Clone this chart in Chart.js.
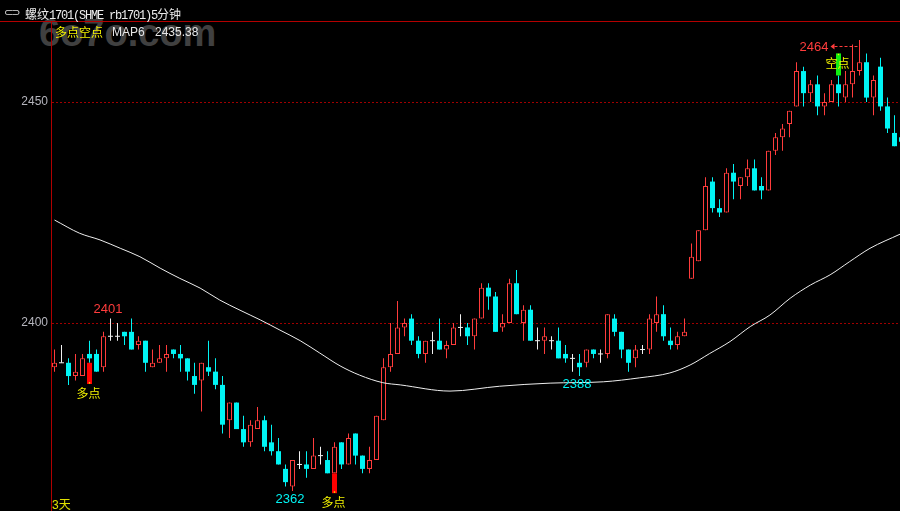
<!DOCTYPE html>
<html><head><meta charset="utf-8">
<script src="https://cdn.jsdelivr.net/npm/chart.js@4/dist/chart.umd.min.js"></script>
<style>
html,body{margin:0;padding:0;background:#000;width:900px;height:511px;overflow:hidden;}
#wrap{position:relative;width:900px;height:511px;background:#000;}
#wm{position:absolute;left:39px;top:14px;font:bold 38px "Liberation Sans",Arial,sans-serif;color:#404040;z-index:0;white-space:nowrap;line-height:1;}
canvas{position:absolute;left:0;top:0;z-index:1;}
.t{position:absolute;z-index:2;white-space:nowrap;line-height:12px;}
#icon{left:4px;top:6px;font:11px "DejaVu Sans",sans-serif;color:#e0e0e0;letter-spacing:-2px;}
#title{left:25px;top:5px;color:#ececec;font-size:12px;}
#title .as{font:12px "Liberation Mono",monospace;letter-spacing:-1.2px;}
#title .cj{font:12px "Noto Sans CJK SC",sans-serif;}
#sig{left:55px;top:23px;font:12px "Noto Sans CJK SC",sans-serif;color:#f2f200;}
#ma{left:112px;top:25px;font:12px "Liberation Sans",Arial,sans-serif;color:#e6e6e6;}
#maval{left:155px;top:25px;font:12px "Liberation Sans",Arial,sans-serif;color:#e6e6e6;}
#days{left:52px;top:495px;font:12px "Liberation Sans","Noto Sans CJK SC",sans-serif;color:#e0e000;}
</style></head><body>
<div id="wrap">
<div id="wm">6o7o.com</div>
<canvas id="c" width="900" height="511"></canvas>
<div class="t" id="icon">⊂⊃</div>
<div class="t" id="title"><span class="cj">螺纹</span><span class="as">1701(SHME rb1701)5</span><span class="cj">分钟</span></div>
<div class="t" id="sig">多点空点</div>
<div class="t" id="ma">MAP6</div>
<div class="t" id="maval">2435.38</div>
<div class="t" id="days">3天</div>
</div>
<script>
// ---- data (5-minute bars, index 0..121) ----
const openP  = [2390,2391,2391,2388,2388,2393,2393,2390,2397,2397,2398,2398,2395,2396,2390,2391,2392,2394,2393,2392,
  2388,2387,2390,2389,2386,2378,2382,2376,2373,2376,2378,2373,2371,2367,2363,2368,2368,2367,2370,2369,
  2366,2373,2368,2375,2370,2367,2369,2378,2390,2393,2399,2401,2396,2393,2396,2396,2394,2395,2399,2399,
  2397,2401,2408,2406,2399,2400,2409,2400,2403,2396,2396,2396,2396,2393,2392,2391,2391,2394,2393,2393,
  2401,2398,2394,2392,2394,2394,2400,2402,2396,2395,2397,2410,2414,2421,2432,2426,2425,2434,2431,2433,
  2435,2431,2430,2439,2442,2445,2449,2457,2452,2454,2449,2450,2454,2451,2454,2457,2459,2451,2458,2449,
  2443,2442];
const highP  = [2394,2395,2392,2393,2393,2396,2394,2398,2401,2400,2398,2401,2397,2396,2394,2395,2395,2394,2395,2392,
  2391,2391,2396,2392,2388,2382,2382,2379,2378,2381,2379,2377,2374,2368,2369,2371,2371,2374,2372,2371,
  2373,2373,2375,2375,2370,2372,2379,2392,2400,2405,2401,2402,2397,2396,2398,2401,2396,2400,2402,2400,
  2401,2409,2409,2407,2402,2410,2412,2404,2404,2399,2399,2397,2399,2395,2393,2393,2394,2394,2394,2402,
  2402,2398,2394,2395,2395,2402,2406,2404,2399,2398,2401,2418,2421,2433,2433,2428,2435,2436,2433,2437,
  2437,2433,2439,2443,2445,2448,2459,2458,2455,2456,2452,2455,2456,2457,2463,2464,2461,2456,2460,2451,
  2447,2444];
const lowP   = [2389,2391,2386,2387,2388,2391,2389,2389,2396,2396,2395,2394,2394,2389,2390,2391,2389,2392,2389,2387,
  2384,2380,2388,2385,2375,2374,2376,2372,2372,2376,2371,2370,2368,2363,2362,2367,2365,2367,2368,2366,
  2366,2367,2368,2368,2366,2366,2369,2378,2389,2393,2397,2395,2392,2391,2393,2394,2392,2395,2397,2395,
  2394,2401,2403,2398,2398,2400,2402,2396,2396,2394,2393,2394,2392,2391,2389,2388,2390,2392,2391,2392,
  2397,2392,2389,2390,2393,2393,2398,2396,2394,2394,2397,2410,2414,2421,2425,2424,2425,2428,2428,2431,
  2430,2428,2430,2438,2439,2442,2449,2449,2450,2447,2447,2450,2449,2450,2451,2456,2450,2447,2448,2443,
  2440,2440];
const closeP = [2391,2391,2388,2389,2392,2392,2389,2397,2397,2397,2397,2394,2396,2391,2391,2392,2393,2393,2392,2389,
  2386,2391,2389,2386,2377,2382,2376,2373,2377,2378,2372,2371,2368,2364,2369,2368,2367,2370,2370,2366,
  2372,2368,2374,2370,2367,2369,2379,2390,2393,2399,2400,2396,2393,2396,2396,2394,2395,2399,2399,2397,
  2401,2408,2406,2398,2400,2409,2402,2403,2396,2396,2397,2396,2392,2392,2392,2390,2394,2393,2393,2402,
  2398,2394,2391,2394,2394,2401,2402,2397,2395,2397,2398,2415,2421,2431,2426,2425,2434,2432,2433,2435,
  2430,2430,2439,2442,2444,2448,2457,2452,2454,2449,2450,2454,2452,2454,2457,2459,2451,2455,2449,2444,
  2440,2441];

// MAP6 line, sampled along the curve (bar index, price)
const maIdx = [0,3.6,6.5,9.4,12.2,15.1,17.9,20.8,23.6,26.5,29.4,32.2,35.1,37.9,40.8,43.6,46.9,49.4,56.5,63.6,
  70.8,78.4,83.6,87.9,90.8,93.6,96.5,99.4,102.2,105.1,108.0,110.8,113.6,116.5,120.8];
const maVal = [2423.3,2420.3,2418.8,2416.9,2415.0,2412.4,2410.1,2407.9,2405.2,2402.9,2400.7,2398.4,2396.0,2393.2,2390.3,2388.2,2386.5,2386.0,2384.6,2385.7,
  2386.4,2386.7,2387.6,2388.7,2390.5,2393.1,2395.8,2399.2,2401.8,2405.6,2408.6,2410.9,2413.9,2416.9,2420.1];

// signals
const buyIdx = [5, 40], buyTop = [2391, 2366], buyBottom = [2386.2, 2361.5];
const sellIdx = [112], sellBottom = [2456], sellTop = [2461];

// price marks
const markIdx = [8, 34, 75, 115];
const markVal = [2401, 2362, 2388, 2464];
const markSide = ['above', 'below', 'below', 'arrow'];

const yTicks = [2400, 2450];

// ---- styling ----
const RED = '#ff3c3c', CYAN = '#00f4f4', WHITE = '#f0f0f0', YEL = '#f2f200';
const colorOf = i => closeP[i] > openP[i] ? RED : (closeP[i] < openP[i] ? CYAN : WHITE);

const wickData = openP.map((o, i) => ({x: i, y: [lowP[i], highP[i]]}));
const upData = [], downData = [], dojiData = [];
openP.forEach((o, i) => {
  const c = closeP[i];
  if (c > o) upData.push({x: i, y: [o, c]});
  else if (c < o) downData.push({x: i, y: [c, o]});
  else dojiData.push({x: i, y: o});
});
const buyData = buyIdx.map((x, k) => ({x, y: [buyBottom[k], buyTop[k]]}));
const sellData = sellIdx.map((x, k) => ({x, y: [sellBottom[k], sellTop[k]]}));
const dotData = buyIdx.map((x, k) => ({x, y: buyBottom[k] + 0.25})).concat(sellIdx.map((x, k) => ({x, y: sellTop[k] - 0.25})));
const maData = maIdx.map((x, k) => ({x, y: maVal[k]}));

const barCommon = {type: 'bar', grouped: false, borderSkipped: false, inflateAmount: 0};

const deco = {
  id: 'deco',
  beforeDraw(chart) {
    const ctx = chart.ctx;
    ctx.save();
    ctx.fillStyle = '#b40000';
    ctx.fillRect(0, 21, 900, 1);
    ctx.restore();
  },
  afterDraw(chart) {
    const ctx = chart.ctx, xs = chart.scales.x, ys = chart.scales.y;
    ctx.save();
    ctx.font = '13px "Liberation Sans", Arial, sans-serif';
    ctx.textBaseline = 'middle';
    markIdx.forEach((idx, k) => {
      const v = markVal[k], px = xs.getPixelForValue(idx), py = ys.getPixelForValue(v);
      const side = markSide[k];
      if (side === 'arrow') {
        const ay = Math.round(py + 6) + 0.5;
        ctx.fillStyle = RED; ctx.strokeStyle = RED; ctx.lineWidth = 1;
        ctx.textAlign = 'right';
        ctx.fillText(String(v), px - 31, ay + 0.5);
        ctx.beginPath();
        ctx.moveTo(px - 29, ay); ctx.lineTo(px - 25, ay - 3); ctx.lineTo(px - 25, ay + 3); ctx.closePath(); ctx.fill();
        ctx.setLineDash([3, 2]);
        ctx.beginPath(); ctx.moveTo(px - 25, ay); ctx.lineTo(px - 1, ay); ctx.stroke();
        ctx.setLineDash([]);
      } else {
        ctx.textAlign = 'center';
        ctx.fillStyle = side === 'above' ? RED : CYAN;
        ctx.fillText(String(v), px - 2.5, side === 'above' ? py - 9.5 : py + 8.5);
      }
    });
    ctx.font = '12px "Noto Sans CJK SC", sans-serif';
    ctx.fillStyle = YEL;
    ctx.textAlign = 'center';
    buyIdx.forEach((idx, k) => {
      ctx.fillText('多点', xs.getPixelForValue(idx) - 1, ys.getPixelForValue(buyBottom[k]) + 9);
    });
    sellIdx.forEach((idx, k) => {
      ctx.fillText('空点', xs.getPixelForValue(idx) - 1, ys.getPixelForValue(sellBottom[k]) - 12.5);
    });
    ctx.restore();
  }
};

new Chart(document.getElementById('c'), {
  type: 'bar',
  data: {
    datasets: [
      {type: 'line', label: 'MAP6', data: maData, borderColor: '#eeeeee', borderWidth: 1, pointRadius: 0,
        pointHoverRadius: 0, tension: 0.4, cubicInterpolationMode: 'monotone', order: 0},
      {...barCommon, label: 'wick', data: wickData, backgroundColor: c => colorOf(c.dataIndex), borderWidth: 0,
        barThickness: 1, order: 6},
      {...barCommon, label: 'up', data: upData, backgroundColor: '#000000', borderColor: RED, borderWidth: 1,
        barThickness: 5, order: 5},
      {...barCommon, label: 'down', data: downData, backgroundColor: CYAN, borderColor: CYAN, borderWidth: 0,
        barThickness: 5, order: 5},
      {type: 'line', label: 'doji', data: dojiData, showLine: false, pointStyle: 'line', pointRadius: 2.5,
        pointHoverRadius: 2.5, pointBorderColor: WHITE, pointBorderWidth: 1, order: 4},
      {...barCommon, label: 'buy', data: buyData, backgroundColor: '#ff0000', borderWidth: 0, barThickness: 5, order: 3},
      {...barCommon, label: 'sell', data: sellData, backgroundColor: '#10f010', borderWidth: 0, barThickness: 5, order: 3},
      {type: 'line', label: 'dot', data: dotData, showLine: false, pointStyle: 'rect', pointRadius: 1,
        pointHoverRadius: 1, pointBackgroundColor: YEL, pointBorderWidth: 0, order: 2}
    ]
  },
  options: {
    responsive: false,
    animation: false,
    devicePixelRatio: 1,
    layout: {autoPadding: false, padding: {top: 22, left: 0, right: 0, bottom: 0}},
    plugins: {legend: {display: false}, tooltip: {enabled: false}},
    scales: {
      x: {type: 'linear', min: -0.5, max: -0.5 + 849 / 7, offset: false, display: false,
        grid: {display: false, offset: false}},
      y: {position: 'left', min: 2357.47, max: 2468.10,
        afterFit: s => { s.width = 51; s.paddingTop = 0; s.paddingBottom = 0; },
        afterBuildTicks: s => { s.ticks = yTicks.map(v => ({value: v})); },
        ticks: {color: '#b4b4bc', font: {family: '"Liberation Sans", Arial, sans-serif', size: 12}, padding: 3,
          callback: v => String(v)},
        grid: {color: '#a00000', drawTicks: false, lineWidth: 1},
        border: {display: true, color: '#b00000', width: 1, dash: [2, 2]}
      }
    }
  },
  plugins: [deco]
});
</script>
</body></html>
